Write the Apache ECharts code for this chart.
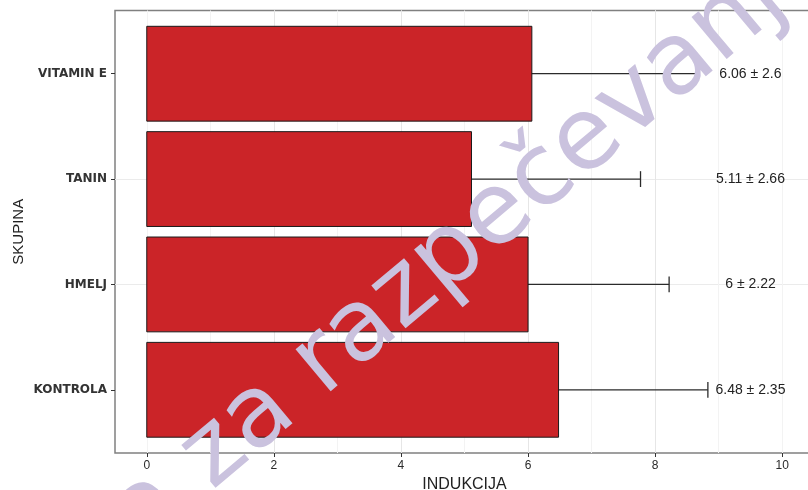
<!DOCTYPE html>
<html>
<head>
<meta charset="utf-8">
<script src="https://cdn.jsdelivr.net/npm/echarts@6/dist/echarts.min.js"></script>
<style>
  html, body { margin: 0; padding: 0; background: #fff; }
  #chart { width: 808px; height: 490px; }
</style>
</head>
<body>
<div id="chart"></div>
<script>
// groups from bottom to top (y = 1..4)
const groups = ['KONTROLA', 'HMELJ', 'TANIN', 'VITAMIN E'];
const means = [6.48, 6, 5.11, 6.06];
const sds = [2.35, 2.22, 2.66, 2.6];
const xTicks = [0, 2, 4, 6, 8, 10];
const labelX = 9.5;

const rows = groups.map((g, i) => [i + 1, means[i], sds[i]]);

const wmStyle = { fontFamily: 'DejaVu Sans', fontSize: 100, fill: '#cac2de', verticalAlign: 'middle' };

const chart = echarts.init(document.getElementById('chart'));
chart.setOption({
  animation: false,
  backgroundColor: '#fff',
  grid: {
    left: 115, top: 10.5, width: 699, height: 442.5,
    outerBoundsMode: 'none', containLabel: false,
    show: true, borderColor: '#808080', borderWidth: 1.5, backgroundColor: '#fff'
  },
  xAxis: [{
    type: 'value', min: -0.5, max: 10.5, splitNumber: 5, z: 2,
    name: 'INDUKCIJA', nameLocation: 'middle', nameGap: 17,
    nameTextStyle: { fontFamily: 'Liberation Sans', fontSize: 16, color: '#222' },
    axisLine: { show: false, onZero: false },
    axisTick: { show: true, length: 4, customValues: xTicks, lineStyle: { color: '#333', width: 1 } },
    axisLabel: { customValues: xTicks, fontFamily: 'Liberation Sans', fontSize: 12, color: '#2a2a2a', margin: 7 },
    splitLine: { show: true, showMinLine: false, showMaxLine: false, lineStyle: { color: '#e6e6e6', width: 1 } }
  }, {
    // minor grid lines
    type: 'value', min: -0.5, max: 10.5, splitNumber: 11, z: 1,
    axisLine: { show: false, onZero: false }, axisTick: { show: false }, axisLabel: { show: false },
    splitLine: { show: true, showMinLine: false, showMaxLine: false, lineStyle: { color: '#f3f3f3', width: 1 } }
  }],
  yAxis: {
    type: 'value', min: 0.4, max: 4.6, splitNumber: 5,
    name: 'SKUPINA', nameLocation: 'middle', nameRotate: 90, nameGap: 89, nameMoveOverlap: false,
    nameTextStyle: { fontFamily: 'Liberation Sans', fontSize: 15, color: '#222' },
    axisLine: { show: false, onZero: false },
    axisTick: { show: true, length: 4, customValues: [1, 2, 3, 4], lineStyle: { color: '#333', width: 1 } },
    axisLabel: {
      customValues: [1, 2, 3, 4],
      formatter: v => groups[Math.round(v) - 1] || '',
      fontFamily: 'DejaVu Sans', fontWeight: 'bold', fontSize: 12, color: '#333', margin: 8
    },
    splitLine: { show: true, showMinLine: false, showMaxLine: false, lineStyle: { color: '#ebebeb', width: 1 } }
  },
  series: [{
    // error bars (drawn behind the bars)
    type: 'custom', z: 2, data: rows,
    renderItem: (params, api) => {
      const y = api.value(0), m = api.value(1), s = api.value(2);
      const lo = api.coord([m - s, y]);
      const hi = api.coord([m + s, y]);
      const cap = api.size([0, 0.15])[1] / 2;
      const st = { stroke: '#2b2b2b', lineWidth: 1.3 };
      return {
        type: 'group', children: [
          { type: 'line', shape: { x1: lo[0], y1: lo[1], x2: hi[0], y2: hi[1] }, style: st },
          { type: 'line', shape: { x1: lo[0], y1: lo[1] - cap, x2: lo[0], y2: lo[1] + cap }, style: st },
          { type: 'line', shape: { x1: hi[0], y1: hi[1] - cap, x2: hi[0], y2: hi[1] + cap }, style: st }
        ]
      };
    }
  }, {
    // bars
    type: 'custom', z: 3, data: rows,
    renderItem: (params, api) => {
      const y = api.value(0), m = api.value(1);
      const p0 = api.coord([0, y + 0.45]);
      const p1 = api.coord([m, y - 0.45]);
      return {
        type: 'rect',
        shape: { x: p0[0], y: p0[1], width: p1[0] - p0[0], height: p1[1] - p0[1] },
        style: { fill: '#cb2428', stroke: '#1a1a1a', lineWidth: 1 }
      };
    }
  }, {
    // mean ± sd labels
    type: 'custom', z: 4, data: rows,
    renderItem: (params, api) => {
      const y = api.value(0), m = api.value(1), s = api.value(2);
      const p = api.coord([labelX, y]);
      return {
        type: 'text', x: p[0], y: p[1],
        style: {
          text: m + ' \u00b1 ' + s, align: 'center', verticalAlign: 'middle',
          fontFamily: 'Liberation Sans', fontSize: 14, fill: '#222'
        }
      };
    }
  }],
  graphic: [{
    type: 'group', x: 307, y: 377, rotation: 40 * Math.PI / 180, zlevel: 1, z: 100,
    children: [
      { type: 'text', zlevel: 1, z: 100, style: Object.assign({ text: 'Kopija za ', align: 'right' }, wmStyle) },
      { type: 'text', zlevel: 1, z: 100, style: Object.assign({ text: 'razpečevanje', align: 'left' }, wmStyle) }
    ]
  }]
});
</script>
</body>
</html>
